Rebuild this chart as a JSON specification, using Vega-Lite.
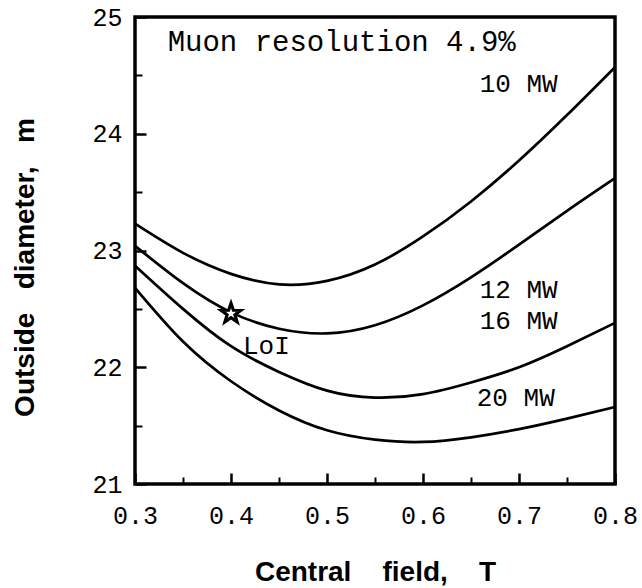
{
  "$schema": "https://vega.github.io/schema/vega-lite/v6.json",
  "width": 480,
  "height": 467,
  "autosize": "none",
  "padding": {"left": 135, "top": 17, "right": 27, "bottom": 104},
  "background": "white",
  "config": {
    "view": {"stroke": "black", "strokeWidth": 3.5},
    "font": "Liberation Mono",
    "axis": {"grid": false, "domain": false, "labelColor": "black", "titleColor": "black", "tickColor": "black"}
  },
  "datasets": {
    "curves": [
      {"series": "10 MW", "x": 0.3, "y": 23.23}, {"series": "10 MW", "x": 0.35, "y": 22.98}, {"series": "10 MW", "x": 0.4, "y": 22.8}, {"series": "10 MW", "x": 0.45, "y": 22.71}, {"series": "10 MW", "x": 0.5, "y": 22.74}, {"series": "10 MW", "x": 0.55, "y": 22.88}, {"series": "10 MW", "x": 0.6, "y": 23.12}, {"series": "10 MW", "x": 0.65, "y": 23.42}, {"series": "10 MW", "x": 0.7, "y": 23.77}, {"series": "10 MW", "x": 0.75, "y": 24.16}, {"series": "10 MW", "x": 0.8, "y": 24.57},
      {"series": "12 MW", "x": 0.3, "y": 23.04}, {"series": "12 MW", "x": 0.35, "y": 22.72}, {"series": "12 MW", "x": 0.4, "y": 22.47}, {"series": "12 MW", "x": 0.45, "y": 22.33}, {"series": "12 MW", "x": 0.5, "y": 22.29}, {"series": "12 MW", "x": 0.55, "y": 22.36}, {"series": "12 MW", "x": 0.6, "y": 22.53}, {"series": "12 MW", "x": 0.65, "y": 22.77}, {"series": "12 MW", "x": 0.7, "y": 23.05}, {"series": "12 MW", "x": 0.75, "y": 23.34}, {"series": "12 MW", "x": 0.8, "y": 23.62},
      {"series": "16 MW", "x": 0.3, "y": 22.87}, {"series": "16 MW", "x": 0.35, "y": 22.5}, {"series": "16 MW", "x": 0.4, "y": 22.18}, {"series": "16 MW", "x": 0.45, "y": 21.96}, {"series": "16 MW", "x": 0.5, "y": 21.8}, {"series": "16 MW", "x": 0.55, "y": 21.74}, {"series": "16 MW", "x": 0.6, "y": 21.77}, {"series": "16 MW", "x": 0.65, "y": 21.87}, {"series": "16 MW", "x": 0.7, "y": 22.0}, {"series": "16 MW", "x": 0.75, "y": 22.18}, {"series": "16 MW", "x": 0.8, "y": 22.38},
      {"series": "20 MW", "x": 0.3, "y": 22.68}, {"series": "20 MW", "x": 0.35, "y": 22.22}, {"series": "20 MW", "x": 0.4, "y": 21.88}, {"series": "20 MW", "x": 0.45, "y": 21.63}, {"series": "20 MW", "x": 0.5, "y": 21.46}, {"series": "20 MW", "x": 0.55, "y": 21.38}, {"series": "20 MW", "x": 0.6, "y": 21.36}, {"series": "20 MW", "x": 0.65, "y": 21.4}, {"series": "20 MW", "x": 0.7, "y": 21.47}, {"series": "20 MW", "x": 0.75, "y": 21.56}, {"series": "20 MW", "x": 0.8, "y": 21.66}
    ],
    "star": [{"x": 0.4, "y": 22.46}],
    "notes": [
      {"x": 0.334, "y": 24.79, "label": "Muon resolution 4.9%", "size": 29},
      {"x": 0.659, "y": 24.43, "label": "10  MW", "size": 26},
      {"x": 0.659, "y": 22.66, "label": "12  MW", "size": 26},
      {"x": 0.659, "y": 22.4, "label": "16  MW", "size": 26},
      {"x": 0.656, "y": 21.74, "label": "20  MW", "size": 26},
      {"x": 0.4125, "y": 22.18, "label": "LoI", "size": 26}
    ]
  },
  "layer": [
    {
      "data": {"name": "curves"},
      "mark": {"type": "line", "interpolate": "natural", "color": "black", "strokeWidth": 2.7},
      "encoding": {
        "x": {"field": "x", "type": "quantitative", "scale": {"domain": [0.3, 0.8], "nice": false, "zero": false},
          "axis": {"orient": "bottom", "values": [0.3, 0.4, 0.5, 0.6, 0.7, 0.8], "format": ".1f",
            "tickSize": -11, "tickWidth": 2.5, "labelPadding": 30, "labelFontSize": 25, "labelFont": "Liberation Mono", "labelFlush": false,
            "title": "Central\u00a0\u00a0\u00a0\u00a0field,\u00a0\u00a0\u00a0\u00a0T", "titleFont": "Liberation Sans", "titleFontWeight": "bold", "titleFontSize": 28,
            "titleBaseline": "middle", "titleY": 88}},
        "y": {"field": "y", "type": "quantitative", "scale": {"domain": [21, 25], "nice": false, "zero": false},
          "axis": {"orient": "left", "values": [21, 22, 23, 24, 25], "format": "d",
            "tickSize": -11, "tickWidth": 2.5, "labelPadding": 24, "labelFontSize": 25, "labelFont": "Liberation Mono", "labelFlush": false,
            "title": "Outside\u00a0\u00a0\u00a0diameter,\u00a0\u00a0\u00a0m", "titleFont": "Liberation Sans", "titleFontWeight": "bold", "titleFontSize": 28,
            "titleBaseline": "middle", "titleX": -110, "titleY": 250}},
        "detail": {"field": "series"}
      }
    },
    {
      "data": {"name": "star"},
      "mark": {"type": "point", "shape": "M0,-1L0.235,-0.324L0.951,-0.309L0.38,0.124L0.588,0.809L0,0.4L-0.588,0.809L-0.38,0.124L-0.951,-0.309L-0.235,-0.324Z", "size": 420, "filled": true, "fill": "white", "stroke": "black", "strokeWidth": 3.2, "opacity": 1},
      "encoding": {
        "x": {"field": "x", "type": "quantitative", "scale": {"domain": [0.3, 0.8], "nice": false, "zero": false},
          "axis": {"orient": "bottom", "values": [0.35, 0.45, 0.55, 0.65, 0.75], "labels": false, "tickSize": -7, "tickWidth": 2, "title": null}},
        "y": {"field": "y", "type": "quantitative", "scale": {"domain": [21, 25], "nice": false, "zero": false},
          "axis": {"orient": "left", "values": [21.5, 22.5, 23.5, 24.5], "labels": false, "tickSize": -7, "tickWidth": 2, "title": null}}
      }
    },
    {
      "data": {"name": "notes"},
      "mark": {"type": "text", "align": "left", "baseline": "middle", "font": "Liberation Mono", "color": "black"},
      "encoding": {
        "x": {"field": "x", "type": "quantitative", "axis": null},
        "y": {"field": "y", "type": "quantitative", "axis": null},
        "text": {"field": "label"},
        "size": {"field": "size", "type": "quantitative", "scale": null, "legend": null}
      }
    }
  ],
  "resolve": {"axis": {"x": "independent", "y": "independent"}}
}
